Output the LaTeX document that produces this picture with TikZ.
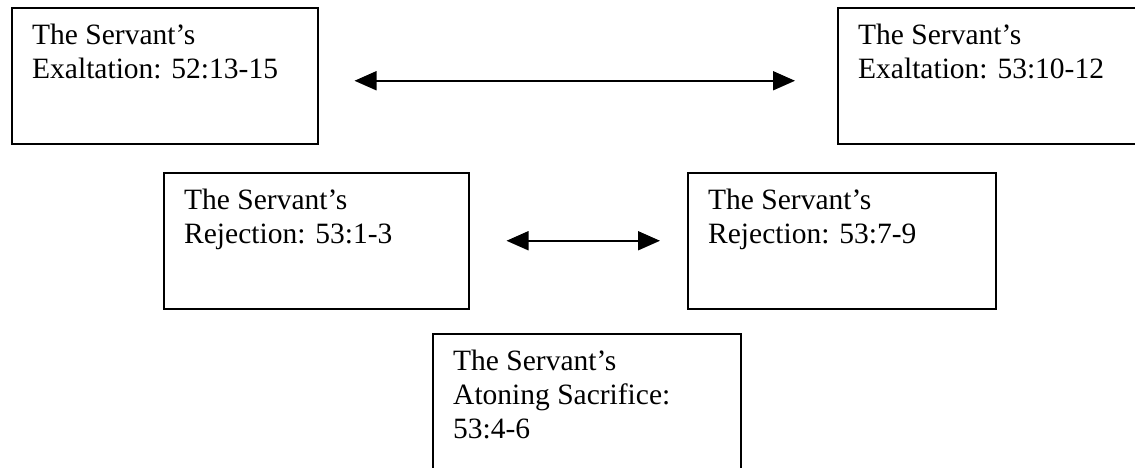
\documentclass[tikz,border=0pt]{standalone}
\usepackage{fontspec}
\setmainfont{Liberation Serif}
\usetikzlibrary{arrows.meta}

\tikzset{
  servbox/.style={draw,line width=1.5pt,minimum width=306pt,minimum height=136pt,anchor=north west,inner sep=0pt},
  servtext/.style={anchor=north west,inner sep=0pt,align=left,font=\fontsize{29.5}{34}\selectfont},
  link/.style={line width=1.8pt,{Triangle[length=22pt,width=19pt]}-{Triangle[length=22pt,width=19pt]}}
}

\begin{document}
\begin{tikzpicture}[x=1pt,y=-1pt]

    \useasboundingbox(0,0)rectangle(1135,467);
    \clip(0,0)rectangle(1135,467);

    \node[servbox](exA)at(11,7){};
    \node[servbox](exB)at(837,7){};
    \node[servbox,minimum width=305pt](rjA)at(163,172){};
    \node[servbox,minimum width=308pt](rjB)at(687,172){};
    \node[servbox,minimum width=308pt](atone)at(432,333){};

    \foreach\B/\T in{exA/{The Servant’s\\Exaltation: 52:13-15},
                     exB/{The Servant’s\\Exaltation: 53:10-12},
                     rjA/{The Servant’s\\Rejection: 53:1-3},
                     rjB/{The Servant’s\\Rejection: 53:7-9},
                     atone/{The Servant’s\\Atoning Sacrifice:\\53:4-6}}
      \node[servtext](\B-t)at([shift={(21,17)}]\B.north west){\T};

    \draw[link,shorten <=36pt,shorten >=42pt]([yshift=-5pt]exA.east)--([yshift=-5pt]exB.west);
    \draw[link,shorten <=37pt,shorten >=27pt](rjA)--(rjB);
  \end{tikzpicture}
\end{document}
